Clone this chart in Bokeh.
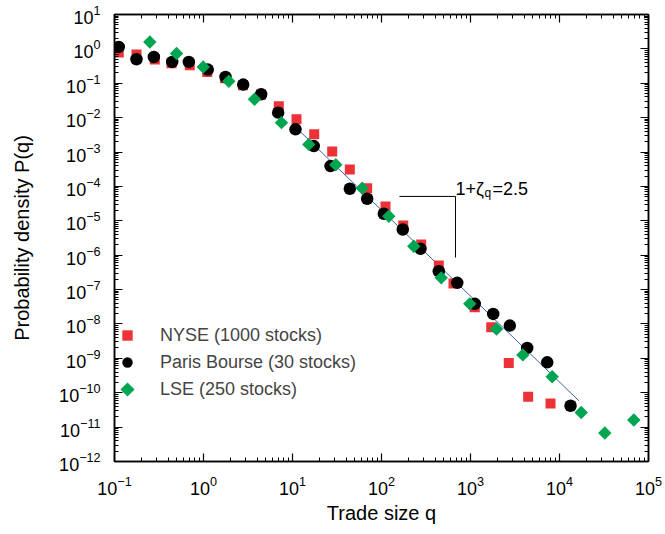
from bokeh.plotting import figure
from bokeh.models import (LogAxis, FixedTicker, Legend, LegendItem, Label,
                          CustomJSTickFormatter, Range1d, LinearScale)
from bokeh.embed import file_html
from bokeh.resources import INLINE

FONT = "Liberation Sans"

# ---- data ----
nyse_q = [0.1117, 0.1766, 0.2838, 0.4365, 0.7015, 1.102, 1.746, 2.780, 4.426, 7.015,
          11.09, 17.54, 27.93, 44.06, 69.02, 110.9, 175.4, 279.3, 440.6, 644.2,
          1117, 1710, 2692, 4446, 7925]
nyse_p = [0.782, 0.684, 0.490, 0.382, 0.334, 0.213, 0.1396, 0.0873, 0.0462, 0.0214,
          8.93e-3, 3.27e-3, 1.04e-3, 3.13e-4, 8.91e-5, 2.62e-5, 7.31e-6, 2.05e-6, 5.00e-7, 1.50e-7,
          3.05e-8, 8.00e-9, 7.35e-10, 7.67e-11, 4.89e-11]

paris_q = [0.1117, 0.1766, 0.2767, 0.4446, 0.684, 1.117, 1.766, 2.793, 4.446, 6.90,
           10.81, 17.34, 26.73, 44.06, 69.02, 106.2, 173.4, 274.2, 440.6, 709.6,
           1117, 1799, 2767, 4335, 7278, 13305]
paris_p = [1.14, 0.499, 0.582, 0.417, 0.417, 0.250, 0.152, 0.0916, 0.0478, 0.0140,
           4.57e-3, 1.49e-3, 3.90e-4, 8.57e-5, 4.39e-5, 1.60e-5, 5.60e-6, 1.53e-6, 3.41e-7, 1.57e-7,
           3.84e-8, 1.96e-8, 8.95e-9, 2.01e-9, 7.64e-10, 4.19e-11]

lse_q = [0.2495, 0.4977, 0.993, 1.923, 3.741, 7.516, 15.24, 30.69, 60.67, 120.8,
         230.7, 468.8, 981.7, 1959, 3873, 8279, 17539, 32285, 68391]
lse_p = [1.592, 0.731, 0.298, 0.1143, 0.0341, 7.16e-3, 1.67e-3, 4.29e-4, 8.91e-5, 1.36e-5,
         1.82e-6, 2.19e-7, 3.84e-8, 7.18e-9, 1.26e-9, 2.93e-10, 2.67e-11, 6.73e-12, 1.61e-11]

fit_q = [10.0, 16500.0]
fit_p = [6.45e-3, 5.85e-11]

slope_q = [159.0, 678.0, 678.0]
slope_p = [5.12e-5, 5.12e-5, 8.55e-7]
slope_label_q = 678.0
slope_label_p = 8.2e-5

x_ticks = [1e-1, 1e0, 1e1, 1e2, 1e3, 1e4, 1e5]
y_ticks = [1e-12, 1e-11, 1e-10, 1e-9, 1e-8, 1e-7, 1e-6, 1e-5, 1e-4, 1e-3, 1e-2, 1e-1, 1e0, 1e1]
x_minor = [m * t for t in x_ticks[:-1] for m in range(2, 10)]
y_minor = [m * t for t in y_ticks[:-1] for m in range(2, 10)]

legend_labels = ["NYSE (1000 stocks)", "Paris Bourse (30 stocks)", "LSE (250 stocks)"]

RED = "#ED3237"
GREEN = "#00A551"
BLUE = "#3F5FAF"

FW, FH = 534, 447
p = figure(x_axis_type="log", y_axis_type="log",
           x_range=Range1d(0.1, 1e5), y_range=Range1d(1e-12, 10),
           frame_width=FW, frame_height=FH, width=664, height=533,
           output_backend="svg", toolbar_location=None,
           min_border_left=114, min_border_top=14, min_border_right=16, min_border_bottom=72,
           background_fill_color="white", border_fill_color="white")
p.xgrid.visible = False
p.ygrid.visible = False
p.outline_line_color = "black"
p.outline_line_width = 1.5

# pixel-unit helper scale for the legend diamond
p.extra_x_ranges = {"px": Range1d(0, FW)}
p.extra_y_ranges = {"px": Range1d(0, FH)}
p.extra_x_scales = {"px": LinearScale()}
p.extra_y_scales = {"px": LinearScale()}

def style_axis(ax):
    ax.major_tick_in = 8
    ax.major_tick_out = 0
    ax.minor_tick_in = 4
    ax.minor_tick_out = 0
    ax.axis_line_width = 1.5
    ax.major_tick_line_width = 1.2
    ax.minor_tick_line_width = 1
    ax.major_label_text_font = FONT
    ax.major_label_text_font_size = "18px"
    ax.major_label_text_color = "black"
    ax.axis_label_text_font = FONT
    ax.axis_label_text_font_size = "20px"
    ax.axis_label_text_font_style = "normal"
    ax.axis_label_text_color = "black"

xa = p.xaxis[0]
ya = p.yaxis[0]
xa.ticker = FixedTicker(ticks=x_ticks, minor_ticks=x_minor)
ya.ticker = FixedTicker(ticks=y_ticks, minor_ticks=y_minor)
style_axis(xa)
style_axis(ya)
xa.axis_label = "Trade size q"
ya.axis_label = "Probability density P(q)"
xa.major_label_standoff = 14
ya.major_label_standoff = 14
xa.axis_label_standoff = 4
ya.axis_label_standoff = 23

top = LogAxis(ticker=FixedTicker(ticks=x_ticks, minor_ticks=x_minor),
              formatter=CustomJSTickFormatter(code="return ''"))
right = LogAxis(ticker=FixedTicker(ticks=y_ticks, minor_ticks=y_minor),
                formatter=CustomJSTickFormatter(code="return ''"))
for ax in (top, right):
    style_axis(ax)
    ax.major_label_standoff = 0
p.add_layout(top, "above")
p.add_layout(right, "right")

# fit line
p.line(fit_q, fit_p, line_color=BLUE, line_width=1)

# slope triangle
p.line(slope_q, slope_p, line_color="black", line_width=1)

r_nyse = p.scatter(nyse_q, nyse_p, marker="square", size=10,
                   fill_color=RED, line_color=None)
r_paris = p.scatter(paris_q, paris_p, marker="circle", size=12.5,
                    fill_color="black", line_color=None)
r_lse = p.scatter(lse_q, lse_p, marker="square", size=9.5, angle=0.7853981633974483,
                  fill_color=GREEN, line_color=None)
# invisible stand-in so the legend keeps its row; diamond drawn below
r_lse_leg = p.scatter(x=[], y=[], marker="square", size=1, fill_alpha=0, line_alpha=0)

LEG_X, LEG_Y, ROW = 0, 59, 26
legend = Legend(items=[LegendItem(label=legend_labels[0], renderers=[r_nyse]),
                       LegendItem(label=legend_labels[1], renderers=[r_paris]),
                       LegendItem(label=legend_labels[2], renderers=[r_lse_leg])],
                location=(LEG_X, LEG_Y), border_line_color=None, background_fill_alpha=0,
                glyph_width=ROW, glyph_height=ROW, label_standoff=20,
                padding=0, margin=0, spacing=1,
                label_text_font=FONT, label_text_font_size="18px")
p.add_layout(legend)

p.scatter(x=[LEG_X + ROW / 2], y=[LEG_Y + ROW / 2], marker="square", size=10,
          angle=0.7853981633974483, fill_color=GREEN, line_color=None,
          x_range_name="px", y_range_name="px")

for txt, size, xo, yo in (("1+ζ", "18px", 0, 0), ("q", "12px", 29, -4), ("=2.5", "18px", 37, 0)):
    p.add_layout(Label(x=slope_label_q, y=slope_label_p, text=txt, x_offset=xo, y_offset=yo,
                       text_font=FONT, text_font_size=size, text_baseline="alphabetic",
                       text_color="black"))

open("out.html", "w").write(file_html(p, INLINE))
